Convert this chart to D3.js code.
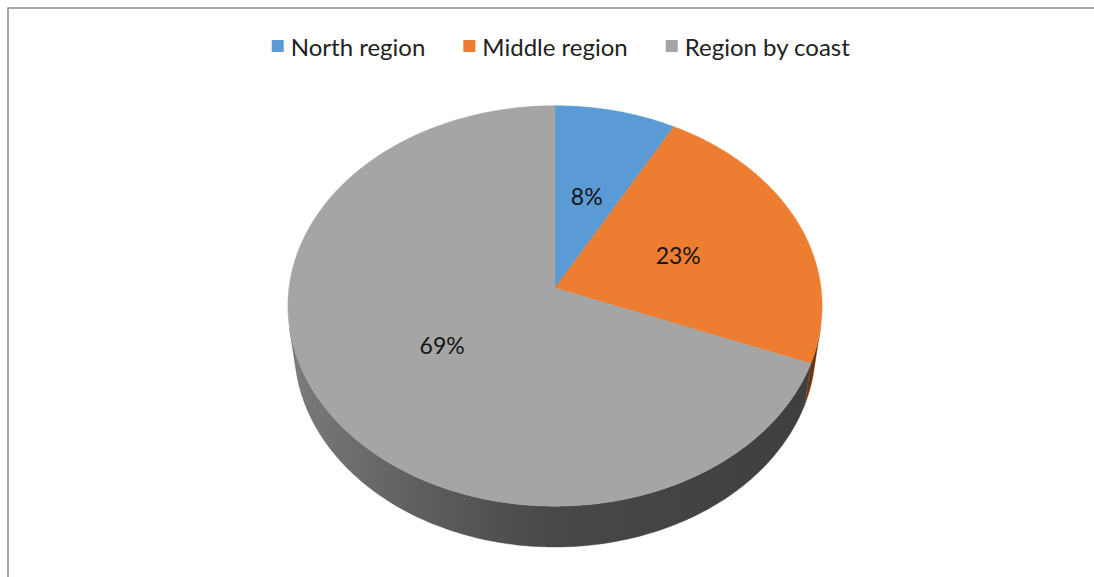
<!DOCTYPE html>
<html><head><meta charset="utf-8">
<script src="https://cdn.jsdelivr.net/npm/d3@7"></script>
<style>html,body{margin:0;padding:0;background:#fff;overflow:hidden}</style>
</head><body>
<svg id="c" width="1094" height="577"></svg>
<script>
const categories = ["North region", "Middle region", "Region by coast"];
const values = [8, 23, 69];
const labels = ["8%", "23%", "69%"];
const topColors = ["#5b9bd5", "#ed7d31", "#a5a5a5"];
const sideColors = ["#2e5f8e", "#7a3c10", "#4a4a4a"];

const svg = d3.select("#c");
const W = 1094, H = 577;
svg.append("rect").attr("x", 8).attr("y", 8).attr("width", W).attr("height", H)
  .attr("fill", "#fff").attr("stroke", "#8c8c8c").attr("stroke-width", 1.5);

// perspective projection of a unit-radius disk
const cx = 555, cy = 288, S = 266, D = 7.42, phi = 48.3 * Math.PI / 180, h = 0.2466;
const sp = Math.sin(phi), cp = Math.cos(phi);
function proj(theta, r, Y) {
  const X = r * Math.sin(theta), rc = r * Math.cos(theta);
  const w = D - Y * sp + rc * cp;
  const up = Y * cp + rc * sp;
  return [cx + S * X * D / w, cy - S * up * D / w];
}
const font = "Lato, 'Open Sans', sans-serif";

const pie = d3.pie().sort(null).value(d => d)(values);

const defs = svg.append("defs");
const g1 = defs.append("linearGradient").attr("id", "sideGray").attr("x1", "0%").attr("x2", "100%");
g1.append("stop").attr("offset", "0%").attr("stop-color", "#7c7c7c");
g1.append("stop").attr("offset", "25%").attr("stop-color", "#5e5e5e");
g1.append("stop").attr("offset", "50%").attr("stop-color", "#484848");
g1.append("stop").attr("offset", "100%").attr("stop-color", "#3f3f3f");
const g2 = defs.append("linearGradient").attr("id", "sideOrange").attr("x1", "0%").attr("x2", "100%");
g2.append("stop").attr("offset", "0%").attr("stop-color", "#7a3c10");
g2.append("stop").attr("offset", "100%").attr("stop-color", "#5e2e0c");
const sideFill = [null, "url(#sideOrange)", "url(#sideGray)"];

// visible side range: contour generators of the cylinder
const camHoriz = D * cp;
const alpha = Math.acos(1 / camHoriz);
const visA0 = Math.PI - alpha, visA1 = Math.PI + alpha;

const line = d3.line();
const sideG = svg.append("g");
pie.forEach((p, i) => {
  const a0 = Math.max(p.startAngle, visA0);
  const a1 = Math.min(p.endAngle, visA1);
  if (a1 <= a0) return;
  const n = 160;
  const pts = d3.range(n + 1).map(k => a0 + (a1 - a0) * k / n);
  const topPts = pts.map(a => proj(a, 1, 0));
  const botPts = pts.slice().reverse().map(a => proj(a, 1, -h));
  sideG.append("path")
    .attr("d", line(topPts.concat(botPts)) + "Z")
    .attr("fill", sideFill[i] || sideColors[i])
    .attr("stroke", sideColors[i]).attr("stroke-width", 0.4);
});

// top face
const topG = svg.append("g");
pie.forEach((p, i) => {
  const n = Math.max(8, Math.ceil((p.endAngle - p.startAngle) * 80));
  const pts = [proj(0, 0, 0)].concat(
    d3.range(n + 1).map(k => proj(p.startAngle + (p.endAngle - p.startAngle) * k / n, 1, 0)));
  topG.append("path").attr("d", line(pts) + "Z")
    .attr("fill", topColors[i]).attr("stroke", topColors[i]).attr("stroke-width", 0.5);
});

// data labels
svg.append("g").selectAll("text").data(pie).join("text")
  .each(function (d) {
    const [x, y] = proj((d.startAngle + d.endAngle) / 2, 0.5, 0);
    d3.select(this).attr("x", x).attr("y", y);
  })
  .attr("text-anchor", "middle").attr("dominant-baseline", "central")
  .attr("font-family", font).attr("font-size", 23).attr("fill", "#151515")
  .text((d, i) => labels[i]);

// legend
const leg = svg.append("g");
const items = leg.selectAll("g").data(categories).join("g");
items.append("rect").attr("width", 12).attr("height", 12).attr("y", -6)
  .attr("fill", (d, i) => topColors[i]);
items.append("text").attr("x", 19).attr("y", 0).attr("dominant-baseline", "central")
  .attr("font-family", font).attr("font-size", 24).attr("fill", "#222").text(d => d);
let xpos = 0;
const gap = 38;
items.each(function () {
  d3.select(this).attr("transform", `translate(${xpos},46)`);
  xpos += this.getBBox().width + gap;
});
const total = xpos - gap;
leg.attr("transform", `translate(${561 - total / 2},0)`);
</script>
</body></html>
